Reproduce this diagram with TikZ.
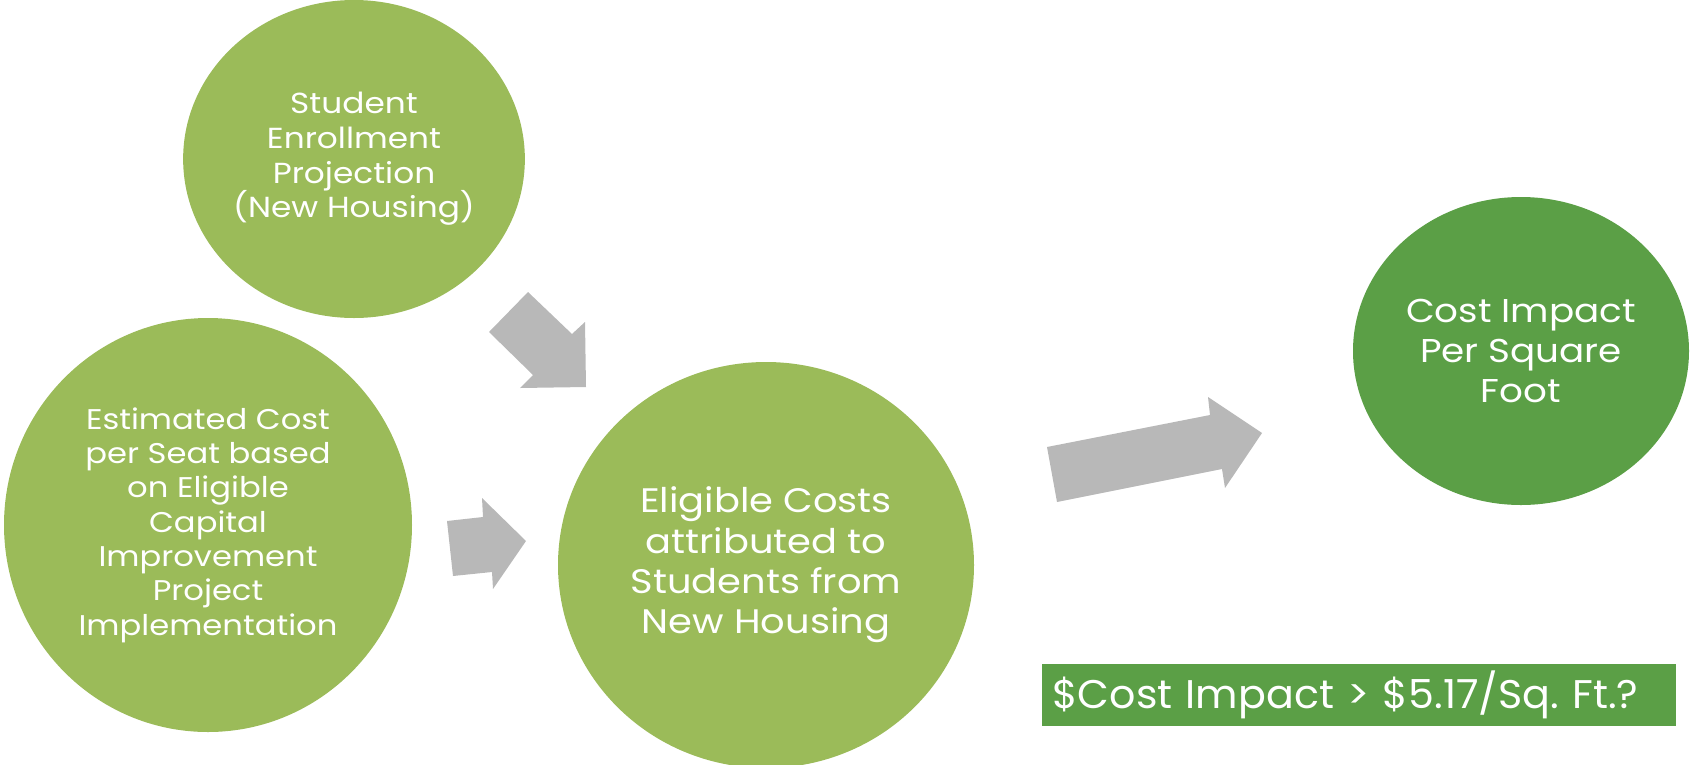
\documentclass[tikz,border=0pt]{standalone}
\usepackage{fontspec}
\setmainfont[FakeStretch=1.13]{Poppins}
\newfontfamily\boxfont[FakeStretch=1.03]{Poppins}
\frenchspacing
\usetikzlibrary{shapes.geometric}
\definecolor{leafgreen}{HTML}{9BBB59}
\definecolor{deepgreen}{HTML}{5B9F46}
\definecolor{arrowgray}{HTML}{B8B8B8}
\begin{document}
\begin{tikzpicture}[x=1pt,y=-1pt,
  bubble/.style={ellipse,inner sep=0pt,text=white,align=center,fill=leafgreen},
  blockarrow/.style={fill=arrowgray,draw=none}]
\useasboundingbox (0,0) rectangle (1690,764);

% input and intermediate bubbles
\node[bubble,minimum width=338pt,minimum height=318pt,
      font=\fontsize{29}{34.7}\selectfont] (enroll) at (354,159)
  {Student\\Enrollment\\Projection\\(New Housing)};
\node[bubble,minimum width=408pt,minimum height=414pt,
      font=\fontsize{28.5}{34.3}\selectfont] (seat) at (208,525)
  {Estimated Cost\\per Seat based\\on Eligible\\Capital\\Improvement\\Project\\Implementation};
\node[bubble,minimum width=416pt,minimum height=406pt,
      font=\fontsize{34}{40.3}\selectfont] (eligible) at (766,565)
  {Eligible Costs\\attributed to\\Students from\\New Housing};

% result bubble
\node[bubble,fill=deepgreen,minimum width=336pt,minimum height=308pt,
      font=\fontsize{33}{40}\selectfont] (impact) at (1521,351)
  {Cost Impact\\Per Square\\Foot};

% threshold question
\node[fill=deepgreen,text=white,anchor=west,minimum width=634pt,minimum height=62pt,
      inner xsep=10pt,text width=614pt,align=left,
      font=\boxfont\fontsize{40}{44}\selectfont] (question) at (1042,695)
  {\$Cost Impact > \$5.17/Sq. Ft.?};

% block arrows between the bubbles
\fill[blockarrow] (489,332) -- (528,292) -- (572,334) -- (585,322) -- (586,387)
  -- (520,388) -- (533,375) -- cycle;
\fill[blockarrow] (447,521) -- (483,517) -- (482,498) -- (526,541) -- (493,589)
  -- (492,572) -- (453,576) -- cycle;
\fill[blockarrow] (1047,447) -- (1210,415) -- (1208,397) -- (1262,433) -- (1225,488)
  -- (1222,469) -- (1057,502) -- cycle;
\end{tikzpicture}
\end{document}
